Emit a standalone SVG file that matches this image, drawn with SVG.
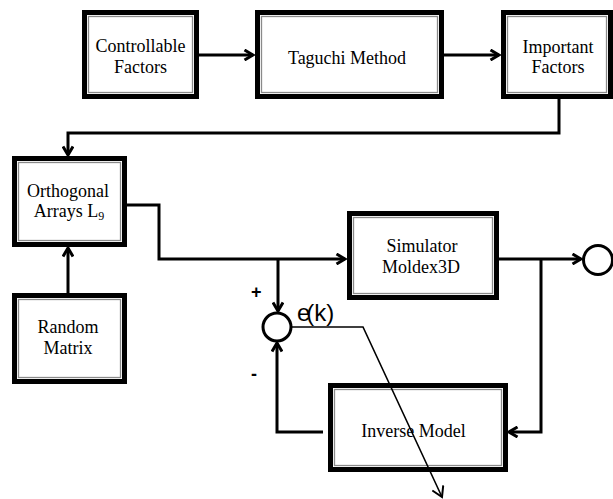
<svg xmlns="http://www.w3.org/2000/svg" width="613" height="499" viewBox="0 0 613 499">
  <defs>
    <marker id="arr" viewBox="0 0 12 12" refX="10.5" refY="6" markerWidth="12" markerHeight="12" markerUnits="userSpaceOnUse" orient="auto">
      <path d="M2,1 L10.5,6 L2,11" fill="none" stroke="#000" stroke-width="3"/>
    </marker>
    <marker id="arrThin" viewBox="0 0 14 14" refX="12" refY="7" markerWidth="14" markerHeight="14" markerUnits="userSpaceOnUse" orient="auto">
      <path d="M2,1 L12,7 L2,13" fill="none" stroke="#000" stroke-width="2"/>
    </marker>
  </defs>
  <style>
    .outer { fill: #fff; stroke: #000; stroke-width: 5; }
    .inner { fill: none; stroke: #8a8a8a; stroke-width: 1.3; }
    .lbl { font-family: "Liberation Serif", "Times New Roman", serif; font-size: 18px; fill: #000; text-anchor: middle; }
    .sym { font-family: "Liberation Sans", Arial, sans-serif; fill: #000; }
    .wire { fill: none; stroke: #000; stroke-width: 3; }
    .thin { fill: none; stroke: #000; stroke-width: 1.6; }
    .ring { fill: #fff; stroke: #000; stroke-width: 3; }
  </style>

  <rect width="613" height="499" fill="#fff"/>

  <g id="controllable-factors">
    <rect class="outer" x="84.5" y="12.5" width="112" height="84"/>
    <rect class="inner" x="88.5" y="16.5" width="104" height="76"/>
    <text class="lbl" x="140.5" y="52">Controllable</text>
    <text class="lbl" x="140.5" y="73">Factors</text>
  </g>

  <g id="taguchi-method">
    <rect class="outer" x="257.5" y="12.5" width="184" height="84"/>
    <rect class="inner" x="261.5" y="16.5" width="176" height="76"/>
    <text class="lbl" x="347" y="63.5">Taguchi Method</text>
  </g>

  <g id="important-factors">
    <rect class="outer" x="503.5" y="12.5" width="107" height="84"/>
    <rect class="inner" x="507.5" y="16.5" width="99" height="76"/>
    <text class="lbl" x="558" y="52.5">Important</text>
    <text class="lbl" x="558" y="73">Factors</text>
  </g>

  <g id="orthogonal-arrays">
    <rect class="outer" x="14.5" y="158.5" width="110" height="86"/>
    <rect class="inner" x="18.5" y="162.5" width="102" height="78"/>
    <text class="lbl" x="68" y="197">Orthogonal</text>
    <text class="lbl" x="69" y="217">Arrays L<tspan font-size="12" dy="3">9</tspan></text>
  </g>

  <g id="random-matrix">
    <rect class="outer" x="14.5" y="295.5" width="110" height="86"/>
    <rect class="inner" x="18.5" y="299.5" width="102" height="78"/>
    <text class="lbl" x="68" y="333">Random</text>
    <text class="lbl" x="68" y="354">Matrix</text>
  </g>

  <g id="simulator">
    <rect class="outer" x="349.5" y="213.5" width="147" height="84"/>
    <rect class="inner" x="353.5" y="217.5" width="139" height="76"/>
    <text class="lbl" x="422" y="251.5">Simulator</text>
    <text class="lbl" x="421" y="272.5">Moldex3D</text>
  </g>

  <g id="inverse-model">
    <rect class="outer" x="330.5" y="385.5" width="175" height="84"/>
    <rect class="inner" x="334.5" y="389.5" width="167" height="76"/>
    <text class="lbl" x="413.5" y="436.5">Inverse Model</text>
  </g>

  <g id="summing-junction">
    <circle class="ring" cx="277" cy="327" r="14"/>
    <text class="sym" x="251" y="298" font-size="18" font-weight="bold">+</text>
    <text class="sym" x="251" y="380" font-size="18" font-weight="bold">-</text>
    <text class="sym" x="297" y="321" font-size="24" dx="0 -4">e(k)</text>
  </g>

  <g id="output">
    <circle class="ring" cx="598" cy="260" r="14.5"/>
  </g>

  <!-- connectors, drawn last so the error line crosses the inverse model box -->
  <g id="connectors">
    <line class="wire" x1="199" y1="55" x2="253" y2="55" marker-end="url(#arr)"/>
    <line class="wire" x1="443" y1="55" x2="499" y2="55" marker-end="url(#arr)"/>
    <polyline class="wire" points="559,99 559,133 68,133 68,155" marker-end="url(#arr)"/>
    <line class="wire" x1="68" y1="293" x2="68" y2="248" marker-end="url(#arr)"/>
    <polyline class="wire" points="126,205 159,205 159,259 345,259" marker-end="url(#arr)"/>
    <line class="wire" x1="498" y1="259" x2="581" y2="259" marker-end="url(#arr)"/>
    <polyline class="wire" points="541,259 541,432 509,432" marker-end="url(#arr)"/>
    <line class="wire" x1="278" y1="259" x2="278" y2="311" marker-end="url(#arr)"/>
    <polyline class="wire" points="323,432 277,432 277,343" marker-end="url(#arr)"/>
    <polyline class="thin" points="291,327 363,327 442,497" marker-end="url(#arrThin)"/>
  </g>
</svg>
